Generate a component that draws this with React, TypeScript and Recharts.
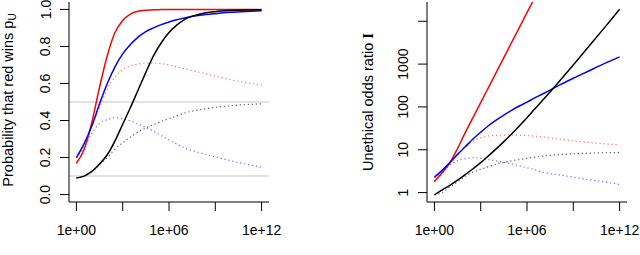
import React from 'react';
import { LineChart, Line, XAxis, YAxis, ReferenceLine } from 'recharts';

// x positions: log10 of the horizontal variable (axis shows 1e+00 ... 1e+12)
const exps = [0, 0.5, 1, 1.5, 2, 2.5, 3, 3.5, 4, 4.5, 5, 5.5, 6, 6.5, 7, 8, 9, 10, 11, 12];

// Left panel: probability that red wins
const pRedSolid = [0.17, 0.245, 0.39, 0.58, 0.75, 0.875, 0.94, 0.975, 0.99, 0.995, 0.998, 0.999, 1, 1, 1, 1, 1, 1, 1, 1];
const pBlueSolid = [0.2, 0.275, 0.37, 0.49, 0.6, 0.69, 0.76, 0.81, 0.85, 0.88, 0.9, 0.918, 0.932, 0.944, 0.954, 0.968, 0.977, 0.984, 0.989, 0.993];
const pBlackSolid = [0.09, 0.1, 0.125, 0.165, 0.215, 0.29, 0.38, 0.47, 0.565, 0.66, 0.75, 0.82, 0.875, 0.915, 0.945, 0.975, 0.988, 0.994, 0.997, 0.998];
const pRedDotted = [0.165, 0.24, 0.37, 0.47, 0.57, 0.635, 0.675, 0.695, 0.705, 0.71, 0.71, 0.707, 0.7, 0.69, 0.68, 0.66, 0.64, 0.62, 0.605, 0.59];
const pBlueDotted = [0.2, 0.255, 0.33, 0.385, 0.405, 0.415, 0.41, 0.398, 0.382, 0.362, 0.342, 0.318, 0.295, 0.273, 0.252, 0.226, 0.204, 0.183, 0.164, 0.148];
const pBlackDotted = [0.09, 0.1, 0.125, 0.16, 0.2, 0.245, 0.28, 0.31, 0.338, 0.36, 0.378, 0.395, 0.41, 0.425, 0.44, 0.458, 0.471, 0.48, 0.486, 0.49];

// Right panel: unethical odds ratio I
const iRedSolid = [1.82, 2.9, 5.0, 10.7, 25, 56, 126, 282, 630, 1410, 3160, 7080, 15850, 35480, 79400, null, null, null, null, null];
const iBlueSolid = [2.29, 3.3, 5.0, 7.8, 11.7, 17.8, 25.7, 36.3, 49, 64.5, 83, 105, 129, 162, 200, 309, 468, 692, 1023, 1479];
const iBlackSolid = [0.89, 1.15, 1.48, 1.95, 2.63, 3.6, 5.0, 7.2, 10.5, 15.5, 23.4, 36, 56, 89, 141, 363, 955, 2570, 6920, 19050];
const iRedDotted = [1.82, 2.75, 4.7, 7.6, 12, 16, 19, 21, 21.6, 22, 22.1, 21.8, 21.4, 20.8, 20, 17.8, 16.2, 14.8, 13.8, 12.9];
const iBlueDotted = [2.24, 2.95, 4.4, 5.6, 6.2, 6.5, 6.3, 5.9, 5.5, 5.1, 4.7, 4.25, 3.8, 3.4, 3.0, 2.6, 2.3, 2.0, 1.78, 1.55];
const iBlackDotted = [0.89, 1.0, 1.35, 1.78, 2.4, 3.0, 3.5, 4.05, 4.65, 5.1, 5.5, 5.9, 6.3, 6.7, 7.1, 7.7, 8.05, 8.3, 8.5, 8.65];

const xTickValues = [0, 3, 6, 9, 12];
const xTickLabels = ['1e+00', '', '1e+06', '', '1e+12'];
const pTickValues = [0, 0.2, 0.4, 0.6, 0.8, 1];
const pTickLabels = ['0.0', '0.2', '0.4', '0.6', '0.8', '1.0'];
const iTickValues = [1, 10, 100, 1000, 10000];
const iTickLabels = ['1', '10', '100', '1000', ''];
const hLines = [0.5, 0.1];

const FONT = '"Liberation Sans", Arial, Helvetica, sans-serif';
const TICK_FS = 14;

const leftData = exps.map((e, i) => ({
  e,
  red: pRedSolid[i], blue: pBlueSolid[i], black: pBlackSolid[i],
  redD: pRedDotted[i], blueD: pBlueDotted[i], blackD: pBlackDotted[i],
}));
const rightData = exps.map((e, i) => ({
  e,
  red: iRedSolid[i], blue: iBlueSolid[i], black: iBlackSolid[i],
  redD: iRedDotted[i], blueD: iBlueDotted[i], blackD: iBlackDotted[i],
}));

const XTick = (props: any) => {
  const { x, y, payload } = props;
  const idx = xTickValues.indexOf(payload.value);
  const label = idx >= 0 ? xTickLabels[idx] : '';
  return (
    <text x={x} y={y + 22} textAnchor="middle" fontSize={TICK_FS} fontFamily={FONT} fill="#000">
      {label}
    </text>
  );
};

const makeYTick = (values: number[], labels: string[]) => (props: any) => {
  const { x, y, payload } = props;
  const idx = values.findIndex((v) => Math.abs(v - payload.value) < 1e-9 * Math.max(1, v));
  const label = idx >= 0 ? labels[idx] : '';
  const bx = x - 7.5;
  return (
    <text x={bx} y={y} transform={`rotate(-90 ${bx} ${y})`} textAnchor="middle" fontSize={TICK_FS} fontFamily={FONT} fill="#000">
      {label}
    </text>
  );
};

const PTick = makeYTick(pTickValues, pTickLabels);
const ITick = makeYTick(iTickValues, iTickLabels);

const solid = 1.5;
const dotW = 1.2;
const dash = '1.3 2.7';

const seriesLines = () => [
  <Line key="redD" dataKey="redD" type="monotone" stroke="#ff0000" strokeOpacity={0.55} strokeWidth={dotW} strokeDasharray={dash} dot={false} isAnimationActive={false} />,
  <Line key="blueD" dataKey="blueD" type="monotone" stroke="#0000ff" strokeOpacity={0.55} strokeWidth={dotW} strokeDasharray={dash} dot={false} isAnimationActive={false} />,
  <Line key="blackD" dataKey="blackD" type="monotone" stroke="#000000" strokeOpacity={0.6} strokeWidth={dotW} strokeDasharray={dash} dot={false} isAnimationActive={false} />,
  <Line key="red" dataKey="red" type="monotone" stroke="#ff0000" strokeWidth={solid} dot={false} isAnimationActive={false} />,
  <Line key="blue" dataKey="blue" type="monotone" stroke="#0000ff" strokeWidth={solid} dot={false} isAnimationActive={false} />,
  <Line key="black" dataKey="black" type="monotone" stroke="#000000" strokeWidth={solid} dot={false} isAnimationActive={false} />,
];

export default function App() {
  return (
    <div style={{ position: 'absolute', left: 0, top: 0, width: 640, height: 255, background: '#fff' }}>
      <div style={{ position: 'absolute', left: 0, top: 0 }}>
        <LineChart width={320} height={255} data={leftData} margin={{ top: 2, right: 51, bottom: 0, left: 0 }}>
          <XAxis dataKey="e" type="number" domain={[-0.48, 12.48]} allowDataOverflow ticks={xTickValues} interval={0}
            tick={XTick} tickSize={9} tickLine={{ stroke: '#000' }} axisLine={{ stroke: '#000' }} height={53} />
          <XAxis xAxisId="top" orientation="top" dataKey="e" type="number" domain={[-0.48, 12.48]} height={0}
            tick={false} tickLine={false} axisLine={{ stroke: '#000' }} />
          <YAxis type="number" domain={[-0.04, 1.04]} allowDataOverflow ticks={pTickValues} interval={0}
            tick={PTick} tickSize={9} tickLine={{ stroke: '#000' }} axisLine={{ stroke: '#000' }} width={69} />
          <YAxis yAxisId="right" orientation="right" type="number" domain={[-0.04, 1.04]} width={0}
            tick={false} tickLine={false} axisLine={{ stroke: '#000' }} />
          {hLines.map((v) => (
            <ReferenceLine key={v} y={v} stroke="#d8d8d8" strokeWidth={1.5} />
          ))}
          {seriesLines()}
        </LineChart>
      </div>
      <div style={{ position: 'absolute', left: 320, top: 0 }}>
        <LineChart width={320} height={255} data={rightData} margin={{ top: 2, right: 13, bottom: 0, left: 0 }}>
          <XAxis dataKey="e" type="number" domain={[-0.48, 12.48]} allowDataOverflow ticks={xTickValues} interval={0}
            tick={XTick} tickSize={9} tickLine={{ stroke: '#000' }} axisLine={{ stroke: '#000' }} height={53} />
          <XAxis xAxisId="top" orientation="top" dataKey="e" type="number" domain={[-0.48, 12.48]} height={0}
            tick={false} tickLine={false} axisLine={{ stroke: '#000' }} />
          <YAxis type="number" scale="log" domain={[0.6026, 28184]} allowDataOverflow ticks={iTickValues} interval={0}
            tick={ITick} tickSize={9} tickLine={{ stroke: '#000' }} axisLine={{ stroke: '#000' }} width={107} />
          <YAxis yAxisId="right" orientation="right" type="number" domain={[0, 1]} width={0}
            tick={false} tickLine={false} axisLine={{ stroke: '#000' }} />
          {seriesLines()}
        </LineChart>
      </div>
      <svg width={640} height={255} style={{ position: 'absolute', left: 0, top: 0, pointerEvents: 'none' }}>
        <text x={13} y={100} transform="rotate(-90 13 100)" textAnchor="middle" fontSize={14.5} fontFamily={FONT} fill="#000">
          Probability that red wins p
          <tspan fontSize={10} dy={3}>U</tspan>
        </text>
        <text x={373} y={102} transform="rotate(-90 373 102)" textAnchor="middle" fontSize={14.5} fontFamily={FONT} fill="#000">
          Unethical odds ratio{' '}
          <tspan fontFamily='"Liberation Serif", "DejaVu Serif", serif' fontWeight="bold">I</tspan>
        </text>
      </svg>
    </div>
  );
}
